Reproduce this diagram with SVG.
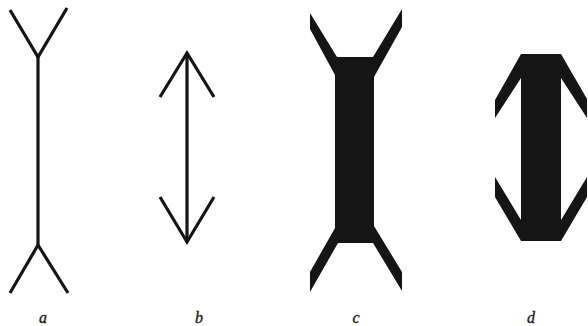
<svg xmlns="http://www.w3.org/2000/svg" width="588" height="326" viewBox="0 0 588 326">
<style>
.ln{fill:none;stroke:#151515;stroke-width:3.2;stroke-linecap:butt;stroke-linejoin:miter}
.sh{fill:#151515;stroke:none}
.lb{font-family:"Liberation Serif","DejaVu Serif",serif;font-style:italic;font-size:16px;fill:#151515;stroke:#151515;stroke-width:0.3;text-anchor:middle}
</style>
<rect width="588" height="326" fill="#ffffff"/>
<g id="fig-a">
<polyline class="ln" points="10,10 38,57 67,8"/>
<line class="ln" x1="38" y1="57" x2="38" y2="245"/>
<polyline class="ln" points="10,293 38,245 68,293"/>
</g>
<g id="fig-b">
<polyline class="ln" points="160,97 187,53 214,97"/>
<line class="ln" x1="187" y1="53" x2="187" y2="242"/>
<polyline class="ln" points="160,197 187,242 214,197"/>
</g>
<g id="fig-c">
<polygon class="sh" points="310,13 337,57 373,57 402,9 402,27 374,77 374,226 402,272 402,291 373,243 338,243 310,292 310,272 335,228 335,75 310,29"/>
</g>
<g id="fig-d">
<polygon class="sh" points="521,54 561,54 587,99 587,118 561,78 561,220 587,177 587,197 561,241 521,241 495,197 495,177 521,220 521,78 495,118 495,100"/>
</g>
<g id="labels">
<text class="lb" x="43" y="323">a</text>
<text class="lb" x="199" y="323">b</text>
<text class="lb" x="356" y="323">c</text>
<text class="lb" x="531" y="323">d</text>
</g>
</svg>
